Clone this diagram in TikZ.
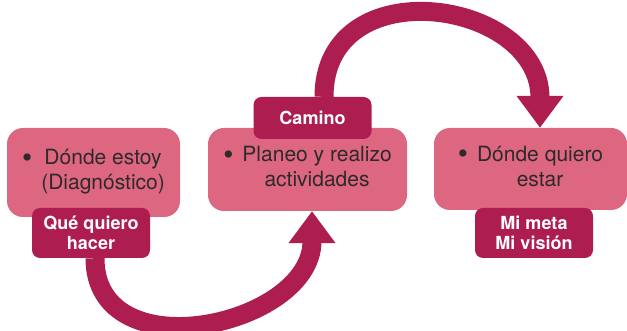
\documentclass[tikz,border=0pt]{standalone}
\usepackage{fontspec}
\setmainfont{TeX Gyre Heros}
\usetikzlibrary{arrows.meta,positioning,backgrounds}
\definecolor{stagePink}{HTML}{DD6680}
\definecolor{stageWine}{HTML}{AD1D4F}
\definecolor{stageInk}{HTML}{2E2A2B}
\newcommand{\stagedot}{\raisebox{-2.5pt}{\fontsize{29}{25}\selectfont\textbullet}\hspace{9pt}}

\begin{document}
\begin{tikzpicture}[x=1pt,y=1pt,
  stagebox/.style={fill=stagePink,rounded corners=16pt,text=stageInk,
    font=\fontsize{21}{25}\selectfont,align=center,inner sep=0pt},
  taglabel/.style={fill=stageWine,rounded corners=8pt,text=white,
    font=\fontsize{18}{20.5}\selectfont\bfseries,align=center,inner sep=0pt,
    minimum width=118pt},
  bigarrow/.style={draw=stageWine,line width=19pt,
    -{Triangle[width=45pt,length=32pt]}}]
  \useasboundingbox (0,0) rectangle (627,331);
  % the three stages
  \node[stagebox,minimum width=173pt,minimum height=89pt] (here) at (93.5,158.5)
    {\stagedot\begin{tabular}[t]{@{}c@{}}Dónde estoy\\(Diagnóstico)\end{tabular}};
  \node[stagebox,minimum width=199pt,minimum height=83pt] (plan) at (307.5,161.5)
    {\stagedot\begin{tabular}[t]{@{}c@{}}Planeo y realizo\\actividades\end{tabular}};
  \node[stagebox,minimum width=193pt,minimum height=82pt] (goal) at (530.5,162)
    {\stagedot\begin{tabular}[t]{@{}c@{}}Dónde quiero\\estar\end{tabular}};
  % tags
  \node[taglabel,minimum height=50pt] (hacer) at (91,98) {Qué quiero\\hacer};
  \node[taglabel,minimum height=42pt] (camino) at (312.5,213) {Camino};
  \node[taglabel,minimum height=50pt] (meta) at (534,98) {Mi meta\\Mi visión};
  % curved arrows behind the boxes
  \begin{scope}[on background layer]
    \draw[bigarrow] ([xshift=4pt]hacer.south) .. controls +(0,-115) and +(0,-115) .. ([xshift=4.5pt]plan.south);
    \draw[bigarrow] ([xshift=11.5pt]camino.north) .. controls +(0,129) and +(0,129) .. ([xshift=9.5pt]goal.north);
  \end{scope}
\end{tikzpicture}
\end{document}
